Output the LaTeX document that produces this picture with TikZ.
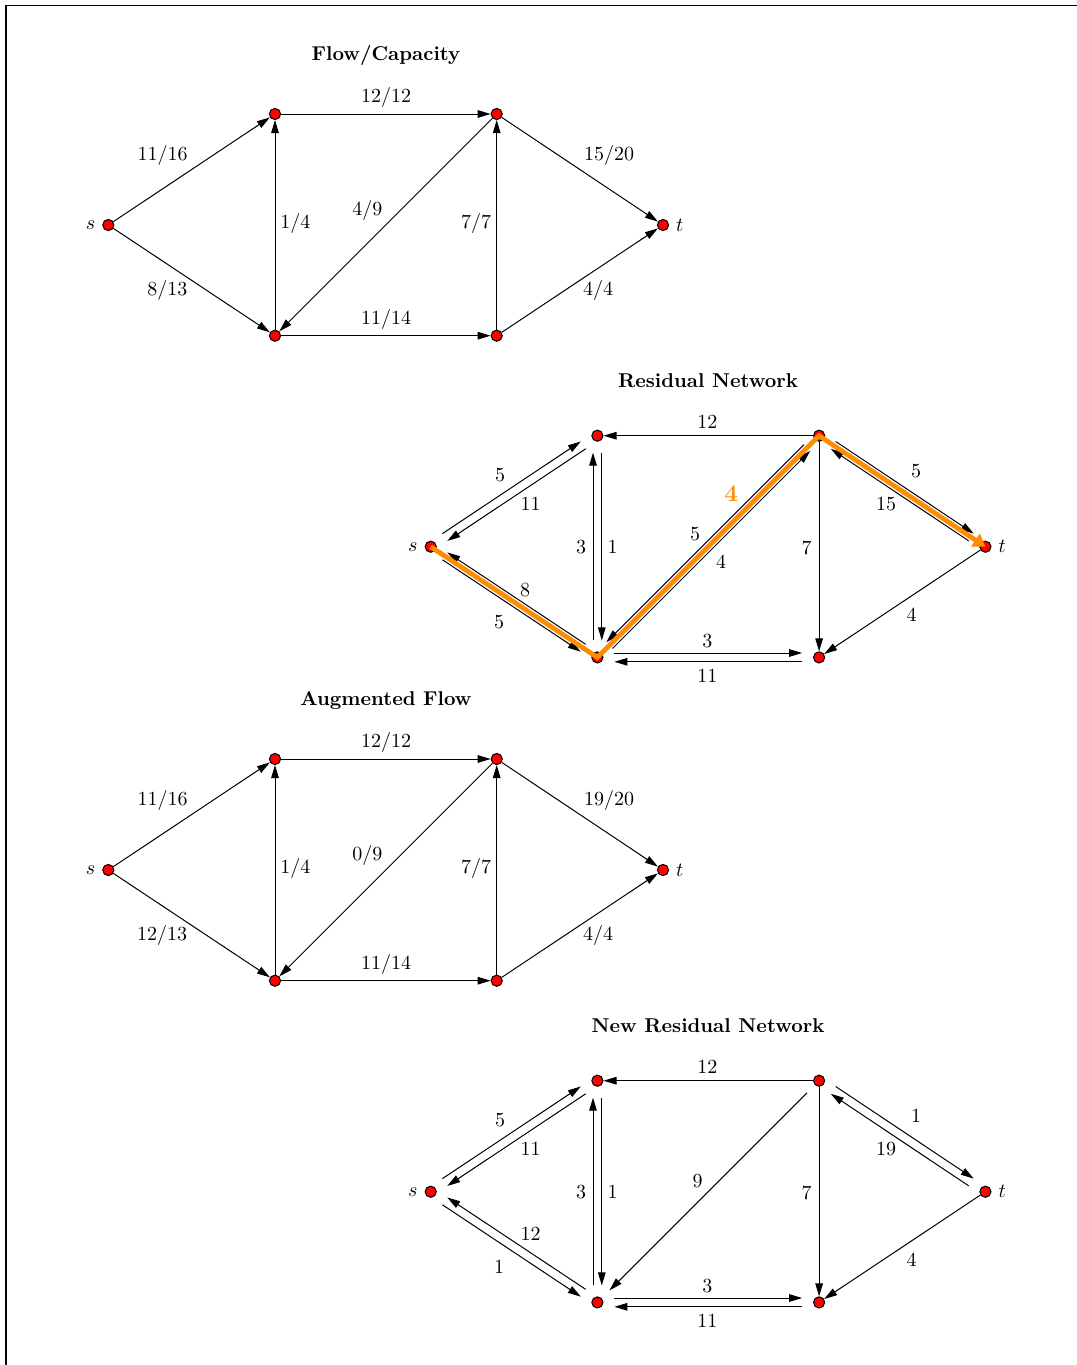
\documentclass[tikz,border=0pt]{standalone}
\usepackage{tikz}
\usetikzlibrary{arrows.meta,calc}
\definecolor{vertred}{HTML}{FF0000}
\definecolor{augorange}{HTML}{FF8C00}
\tikzset{
  vert/.style={circle, fill=vertred, draw=black, line width=0.5pt, minimum size=5.6pt, inner sep=0pt},
  arc/.style={draw=black, line width=0.5pt, -{Triangle[length=6.5pt, width=3.8pt]}},
  resl/.style={to path={($(\tikztostart)!8.5pt!(\tikztotarget)!2.2pt!90:(\tikztotarget)$)
      -- ($(\tikztotarget)!8.5pt!(\tikztostart)!2.2pt!-90:(\tikztostart)$)}},
  resr/.style={to path={($(\tikztostart)!8.5pt!(\tikztotarget)!2.2pt!-90:(\tikztotarget)$)
      -- ($(\tikztotarget)!8.5pt!(\tikztostart)!2.2pt!90:(\tikztostart)$)}},
  wt/.style={inner sep=0pt},
  ttl/.style={font=\bfseries, inner sep=0pt},
  aug/.style={draw=augorange, line width=2.4pt, -{Triangle[length=6pt, width=7.5pt]}},
}

\begin{document}
\begin{tikzpicture}[x=0.5pt, y=-0.5pt]

  \useasboundingbox (0,0) rectangle (1076,1365);
  \draw[line width=0.6pt] (6,1400) -- (6,5.5) -- (1100,5.5);

  % vertices of the four networks
  \foreach \g/\dx/\dy in {f/0/0, r/322.4/321.7, a/0/645, n/322.4/966.7} {
    \node[vert, label={[wt, label distance=3.3pt]left:$s$}] (\g-s) at (108.3+\dx, 225+\dy) {};
    \node[vert] (\g-a) at (275+\dx, 114+\dy) {};
    \node[vert] (\g-b) at (496.7+\dx, 114+\dy) {};
    \node[vert, label={[wt, label distance=3.3pt]right:$t$}] (\g-t) at (663+\dx, 225+\dy) {};
    \node[vert] (\g-c) at (275+\dx, 335.7+\dy) {};
    \node[vert] (\g-d) at (496.7+\dx, 335.7+\dy) {};
  }

  \node[ttl] (f-ttl) at (386,56) {Flow/Capacity};
  \node[ttl] (r-ttl) at (708,381) {Residual Network};
  \node[ttl] (a-ttl) at (386,701) {Augmented Flow};
  \node[ttl] (n-ttl) at (708,1026) {New Residual Network};

  % flow networks
  \foreach \g in {f,a} {
    \draw[arc] (\g-s) -- (\g-a);
    \draw[arc] (\g-s) -- (\g-c);
    \draw[arc] (\g-c) -- (\g-a);
    \draw[arc] (\g-a) -- (\g-b);
    \draw[arc] (\g-b) -- (\g-c);
    \draw[arc] (\g-d) -- (\g-b);
    \draw[arc] (\g-c) -- (\g-d);
    \draw[arc] (\g-b) -- (\g-t);
    \draw[arc] (\g-d) -- (\g-t);
  }

  % residual networks
  \foreach \g in {r,n} {
    \draw[arc] (\g-s) to[resl] (\g-a);
    \draw[arc] (\g-a) to[resl] (\g-s);
    \draw[arc] (\g-s) to[resr] (\g-c);
    \draw[arc] (\g-c) to[resr] (\g-s);
    \draw[arc] (\g-c) to[resl] (\g-a);
    \draw[arc] (\g-a) to[resl] (\g-c);
    \draw[arc] (\g-c) to[resl] (\g-d);
    \draw[arc] (\g-d) to[resl] (\g-c);
    \draw[arc] (\g-b) to[resl] (\g-t);
    \draw[arc] (\g-t) to[resl] (\g-b);
    \draw[arc] (\g-b) -- (\g-a);
    \draw[arc] (\g-b) -- (\g-d);
    \draw[arc] (\g-t) -- (\g-d);
  }
  \draw[arc] (r-b) to[resr] (r-c);
  \draw[arc] (r-c) to[resr] (r-b);
  \draw[arc, shorten <=5.5pt, shorten >=5.5pt] (n-b) -- (n-c);

  % augmenting path
  \draw[aug] (r-s.center) -- (r-c.center) -- (r-b.center) -- (r-t.center);
  \node[wt, font=\large\bfseries, text=augorange] (r-gain) at (731,494) {4};

  % edge weights
  \foreach \x/\y/\w [count=\i] in {386/97.3/{12/12}, 162.7/155/{11/16}, 167.3/290/{8/13},
      295.3/223.3/{1/4}, 367.3/210.7/{4/9}, 476/223.3/{7/7}, 609/155/{15/20},
      386/319.3/{11/14}, 598/290/{4/4}}
    \node[wt] (f-w\i) at (\x,\y) {\w};
  \foreach \x/\y/\w [count=\i] in {386/742/{12/12}, 162.7/800/{11/16}, 162/935/{12/13},
      295.3/868/{1/4}, 367.3/855.7/{0/9}, 476/868/{7/7}, 609/800/{19/20},
      386/964/{11/14}, 598/935/{4/4}}
    \node[wt] (a-w\i) at (\x,\y) {\w};
  \foreach \x/\y/\w [count=\i] in {707.3/422.3/12, 500/475/5, 530.7/504.3/11,
      581/547.3/3, 612.7/547.3/1, 695/534/5, 721/562/4, 806.7/547.7/7,
      916/471/5, 886/504.3/15, 525/590/8, 499/622.3/5, 707.3/640.7/3,
      707.3/676/11, 911.7/614.3/4}
    \node[wt] (r-w\i) at (\x,\y) {\w};
  \foreach \x/\y/\w [count=\i] in {707.3/1067.3/12, 500/1120/5, 530.7/1149.3/11,
      581/1192.3/3, 612.7/1192.3/1, 697.7/1180.7/9, 806.7/1192.7/7,
      916/1116/1, 886/1149.3/19, 530.7/1234/12, 499/1267.3/1, 707.3/1285.7/3,
      707.3/1321/11, 911.7/1259.3/4}
    \node[wt] (n-w\i) at (\x,\y) {\w};

\end{tikzpicture}
\end{document}
